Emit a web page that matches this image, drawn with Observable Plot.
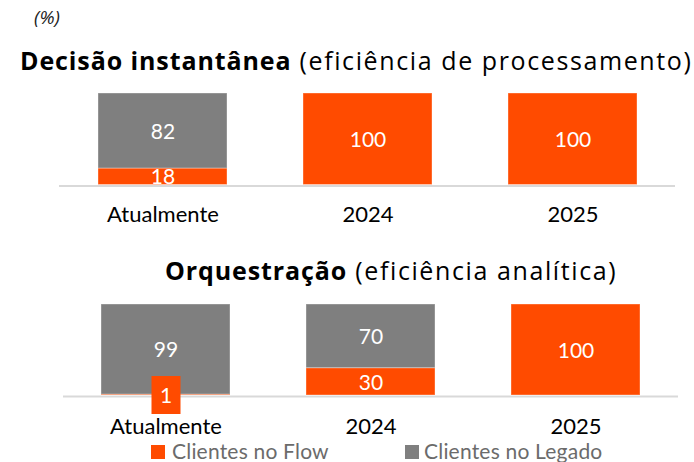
<!DOCTYPE html>
<html>
<head>
<meta charset="utf-8">
<script src="https://cdn.jsdelivr.net/npm/d3@7"></script>
<script src="https://cdn.jsdelivr.net/npm/@observablehq/plot@0.6"></script>
<style>
  html, body { margin: 0; padding: 0; background: #fff; }
  #wrap { position: relative; width: 694px; height: 462px; overflow: hidden; background: #fff; }
  .abs { position: absolute; white-space: nowrap; }
  .title { font-family: "Open Sans", sans-serif; font-size: 25px; letter-spacing: 1.6px; color: #000; line-height: 1; }
  .title b { font-weight: 700; letter-spacing: 0.9px; }
  .pct { font-family: "Open Sans", sans-serif; font-style: italic; font-size: 19px; color: #222; left: 34px; top: 8px; line-height: 1; }
  .leg { font-family: Lato, sans-serif; font-size: 21px; letter-spacing: 0.2px; color: #6b6b6b; line-height: 1; }
  .sw { position: absolute; width: 14px; height: 14px; }
</style>
</head>
<body>
<div id="wrap">
  <div class="abs pct">(%)</div>
  <div class="abs title" id="t1" style="left:20px; top:48px;"><b>Decisão instantânea</b> (eficiência de processamento)</div>
  <div class="abs title" id="t2" style="left:165px; top:258px;"><b>Orquestração</b> (eficiência analítica)</div>
  <div id="p1" class="abs" style="left:0; top:80px;"></div>
  <div id="p2" class="abs" style="left:0; top:290px;"></div>
  <div class="sw" id="sw1" style="left:151px; top:445px;"></div>
  <div class="abs leg" id="l1" style="left:172px; top:440px;"></div>
  <div class="sw" id="sw2" style="left:405px; top:445px;"></div>
  <div class="abs leg" id="l2" style="left:424px; top:440px;"></div>
</div>
<script>
// ---- data ----
const categories = ["Atualmente", "2024", "2025"];
const series = ["Clientes no Flow", "Clientes no Legado"];
const colors = ["#FF4B00", "#7F7F7F"];
const decisaoFlow = [18, 100, 100];
const decisaoLegado = [82, 0, 0];
const orquestracaoFlow = [1, 30, 100];
const orquestracaoLegado = [99, 70, 0];

const labelBox = {
  draw(context) { context.rect(-14.5, -19, 29, 38); }
};

function panel(flow, legado, m) {
  const rows = categories.flatMap((c, i) => [
    {cat: c, serie: series[0], value: flow[i]},
    {cat: c, serie: series[1], value: legado[i]}
  ]);
  return Plot.plot({
    width: 694,
    height: 150,
    marginLeft: m.left,
    marginRight: m.right,
    marginTop: m.top,
    marginBottom: m.bottom,
    style: {fontFamily: "Lato, sans-serif", background: "transparent", overflow: "visible"},
    x: {domain: categories, paddingInner: 0.3715, paddingOuter: 0.1857, axis: null},
    y: {domain: [0, 100], axis: null},
    color: {domain: series, range: colors},
    marks: [
      Plot.ruleY([0], {stroke: "#d9d9d9", strokeWidth: 2, dy: 1}),
      Plot.barY(rows, {x: "cat", y: "value", fill: "serie", stroke: "#ffffff", strokeOpacity: 0.35, strokeWidth: 1}),
      Plot.dot(rows, Plot.stackY({x: "cat", y: "value", z: "serie", filter: d => d.value > 0 && d.value < 5, symbol: labelBox, fill: "serie", stroke: null})),
      Plot.text(rows, Plot.stackY({x: "cat", y: "value", z: "serie", filter: d => d.value > 0, text: d => String(d.value), fill: "white", fontSize: 21, dy: 1})),
      Plot.axisX({tickSize: 0, tickPadding: m.pad, fontSize: 22, fill: "#000", label: null})
    ]
  });
}

document.getElementById("p1").appendChild(panel(decisaoFlow, decisaoLegado, {left: 59, right: 19, top: 13, bottom: 45.5, pad: 21}));
document.getElementById("p2").appendChild(panel(orquestracaoFlow, orquestracaoLegado, {left: 63, right: 16, top: 14, bottom: 45, pad: 23}));

document.getElementById("sw1").style.background = colors[0];
document.getElementById("sw2").style.background = colors[1];
document.getElementById("l1").textContent = series[0];
document.getElementById("l2").textContent = series[1];
</script>
</body>
</html>
